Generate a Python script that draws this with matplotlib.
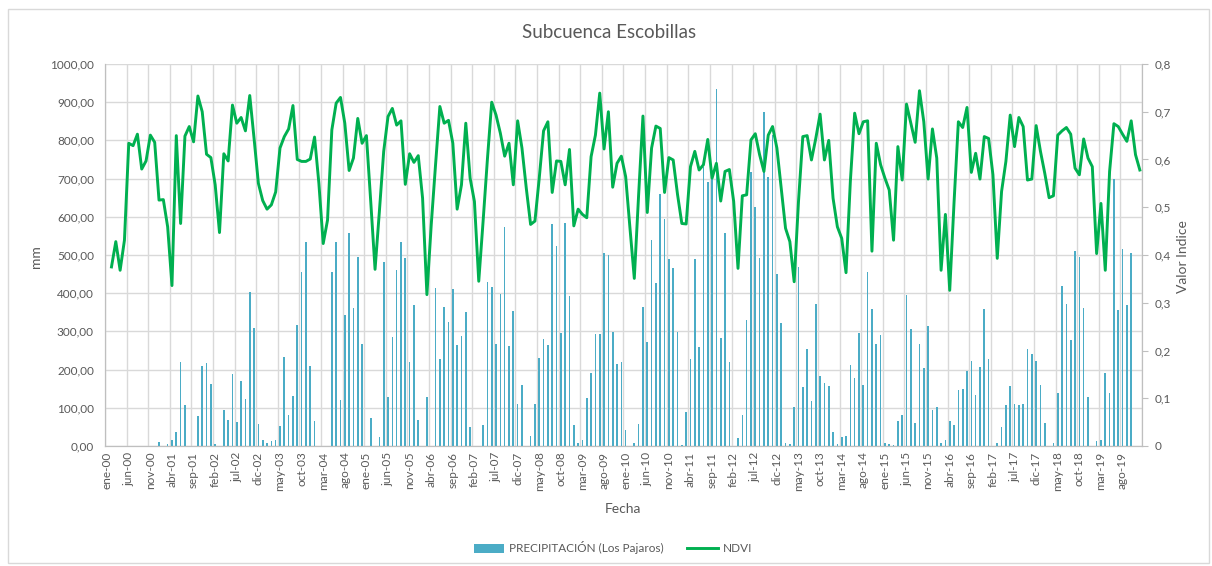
import numpy as np
import matplotlib
matplotlib.use("Agg")
import matplotlib.pyplot as plt
from matplotlib.ticker import FuncFormatter, FixedLocator, MultipleLocator
from matplotlib.patches import Rectangle

plt.rcParams['font.family'] = ['Lato', 'DejaVu Sans']

# categories: monthly, ene-00 .. dic-19
meses = ['ene', 'feb', 'mar', 'abr', 'may', 'jun', 'jul', 'ago', 'sep', 'oct', 'nov', 'dic']
years = list(range(2000, 2020))
fechas = [f"{m}-{str(y)[2:]}" for y in years for m in meses]

# monthly precipitation (mm), Los Pajaros
precip = [
    0, 0, 0, 0, 0, 0, 0, 0, 0, 0, 0, 0,
    10, 0, 6, 17, 37, 219, 107, 0, 0, 78, 210, 217,
    163, 4, 0, 94, 68, 189, 63, 171, 124, 404, 309, 57,
    17, 9, 13, 17, 52, 233, 80, 132, 316, 456, 533, 209,
    65, 0, 0, 0, 456, 535, 120, 343, 558, 361, 494, 267,
    0, 72, 0, 24, 482, 127, 286, 460, 533, 492, 219, 369,
    67, 0, 128, 0, 413, 227, 363, 325, 410, 264, 288, 350,
    50, 0, 0, 56, 430, 416, 267, 398, 573, 261, 354, 111,
    159, 0, 26, 109, 230, 280, 265, 582, 524, 297, 584, 392,
    54, 9, 17, 126, 190, 292, 292, 506, 500, 299, 214, 219,
    42, 0, 9, 57, 365, 273, 538, 426, 660, 594, 490, 465,
    299, 2, 90, 229, 490, 258, 731, 692, 705, 934, 284, 557,
    219, 0, 20, 82, 329, 717, 626, 492, 874, 703, 815, 451,
    321, 9, 5, 102, 468, 154, 255, 119, 372, 182, 164, 157,
    37, 4, 24, 25, 213, 177, 297, 159, 456, 358, 266, 290,
    9, 4, 2, 66, 82, 395, 306, 59, 267, 203, 314, 94,
    102, 9, 17, 65, 54, 146, 149, 196, 222, 133, 207, 358,
    229, 0, 8, 50, 107, 156, 111, 108, 109, 253, 240, 222,
    159, 61, 0, 7, 139, 420, 373, 277, 510, 496, 360, 128,
    0, 12, 17, 192, 140, 699, 357, 516, 369, 504, 0, 0,
]

# NDVI (starts feb-00)
ndvi = [
    np.nan, 0.375, 0.428, 0.368, 0.431, 0.634, 0.629, 0.653, 0.580, 0.597, 0.651, 0.636,
    0.515, 0.516, 0.459, 0.336, 0.650, 0.466, 0.649, 0.669, 0.637, 0.733, 0.700, 0.611,
    0.604, 0.547, 0.447, 0.612, 0.597, 0.714, 0.676, 0.688, 0.660, 0.734, 0.644, 0.550,
    0.514, 0.496, 0.505, 0.532, 0.624, 0.648, 0.664, 0.713, 0.600, 0.596, 0.596, 0.601,
    0.647, 0.550, 0.424, 0.473, 0.662, 0.718, 0.730, 0.676, 0.577, 0.603, 0.686, 0.634,
    0.650, 0.512, 0.370, 0.491, 0.617, 0.690, 0.707, 0.672, 0.681, 0.548, 0.612, 0.594,
    0.608, 0.519, 0.317, 0.463, 0.589, 0.711, 0.676, 0.682, 0.634, 0.496, 0.547, 0.676,
    0.561, 0.512, 0.345, 0.470, 0.600, 0.720, 0.693, 0.655, 0.607, 0.634, 0.547, 0.681,
    0.624, 0.540, 0.464, 0.471, 0.561, 0.660, 0.679, 0.531, 0.597, 0.596, 0.547, 0.621,
    0.461, 0.496, 0.485, 0.478, 0.606, 0.651, 0.739, 0.622, 0.700, 0.542, 0.592, 0.607,
    0.564, 0.456, 0.351, 0.526, 0.691, 0.489, 0.624, 0.670, 0.665, 0.531, 0.604, 0.599,
    0.527, 0.466, 0.465, 0.585, 0.617, 0.578, 0.589, 0.642, 0.561, 0.592, 0.513, 0.575,
    0.579, 0.512, 0.372, 0.524, 0.526, 0.641, 0.654, 0.610, 0.575, 0.651, 0.669, 0.624,
    0.540, 0.456, 0.428, 0.344, 0.512, 0.648, 0.650, 0.599, 0.644, 0.695, 0.599, 0.640,
    0.519, 0.459, 0.435, 0.363, 0.554, 0.697, 0.654, 0.679, 0.681, 0.408, 0.634, 0.589,
    0.561, 0.536, 0.431, 0.627, 0.557, 0.716, 0.676, 0.636, 0.744, 0.679, 0.559, 0.664,
    0.603, 0.368, 0.485, 0.326, 0.510, 0.679, 0.667, 0.709, 0.573, 0.613, 0.559, 0.648,
    0.644, 0.568, 0.393, 0.533, 0.596, 0.693, 0.627, 0.688, 0.669, 0.557, 0.559, 0.671,
    0.617, 0.571, 0.520, 0.524, 0.651, 0.660, 0.667, 0.653, 0.582, 0.568, 0.643, 0.603,
    0.585, 0.403, 0.508, 0.368, 0.575, 0.675, 0.669, 0.653, 0.638, 0.681, 0.610, 0.578,
]

txt = '#595959'
grid_c = '#D9D9D9'
bar_c = '#4BACC6'
line_c = '#00B050'

fig = plt.figure(figsize=(12.12, 5.66), dpi=100)
ax = fig.add_axes([105/1212, 1 - 446/566, 1037/1212, 382/566])
ax2 = ax.twinx()

x = np.arange(len(fechas))
ax.bar(x, precip, width=0.38, color=bar_c, zorder=3, label='PRECIPITACIÓN (Los Pajaros)')
ax2.plot(x, ndvi, color=line_c, lw=2.1, zorder=4, label='NDVI')

ax.set_xlim(-0.5, len(fechas) - 0.5)
ax.set_ylim(0, 1000)
ax2.set_ylim(0, 0.8)

# labels every 5 months, gridlines between categories
ax.xaxis.set_major_locator(FixedLocator(x[::5]))
ax.set_xticklabels(fechas[::5], rotation=90, fontsize=8.5, color=txt)
ax.xaxis.set_minor_locator(FixedLocator(np.arange(-0.5, len(fechas), 5)))
ax.tick_params(axis='x', which='both', length=0, pad=4)
ax.grid(axis='x', which='minor', color=grid_c, lw=1, zorder=0)

ax.yaxis.set_major_locator(MultipleLocator(100))
ax.yaxis.set_major_formatter(FuncFormatter(lambda v, p: f"{v:.2f}".replace('.', ',')))
ax.tick_params(axis='y', length=0, labelsize=8.5, labelcolor=txt, pad=8)
ax.grid(axis='y', which='major', color=grid_c, lw=1, zorder=0)

ax2.yaxis.set_major_locator(MultipleLocator(0.1))
ax2.yaxis.set_major_formatter(FuncFormatter(lambda v, p: '0' if v == 0 else f"{v:.1f}".replace('.', ',')))
ax2.tick_params(axis='y', length=4, color='#BFBFBF', labelsize=8.5, labelcolor=txt, pad=5)

for a in (ax, ax2):
    a.spines['top'].set_visible(False)
    for s in ('left', 'right', 'bottom'):
        a.spines[s].set_color('#BFBFBF')
ax.set_axisbelow(True)

fig.text(609/1212, 1 - 33/566, 'Subcuenca Escobillas', ha='center', va='center', fontsize=13.5, color=txt)
fig.text(623/1212, 1 - 509/566, 'Fecha', ha='center', va='center', fontsize=10, color=txt)
fig.text(36/1212, 1 - 257/566, 'mm', ha='center', va='center', rotation=90, fontsize=10, color=txt)
fig.text(1183/1212, 1 - 257/566, 'Valor Indice', ha='center', va='center', rotation=90, fontsize=10, color=txt)

h1, l1 = ax.get_legend_handles_labels()
h2, l2 = ax2.get_legend_handles_labels()
fig.legend(h1 + h2, l1 + l2, loc='center', bbox_to_anchor=(613/1212, 1 - 548/566), ncol=2,
           frameon=False, fontsize=8.5, labelcolor=txt, handlelength=2.6, handleheight=0.8,
           columnspacing=2.0, handletextpad=0.4)

# chart area border
fig.patches.append(Rectangle((8/1212, 3/566), 1201/1212, 554/566, transform=fig.transFigure,
                             fill=False, edgecolor=grid_c, lw=1))

fig.savefig('out.png', dpi=100)
